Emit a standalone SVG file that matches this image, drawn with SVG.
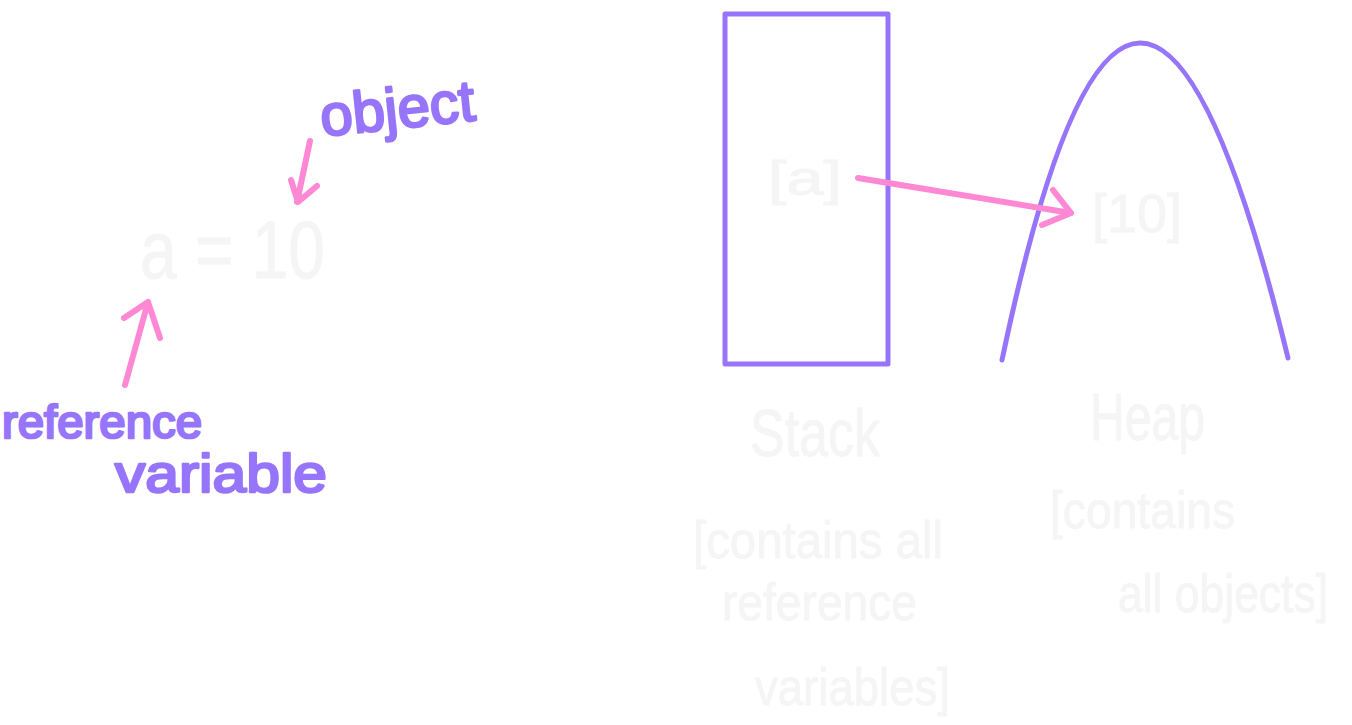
<svg xmlns="http://www.w3.org/2000/svg" width="1352" height="725" viewBox="0 0 1352 725">
<style>
.ink{fill:none;stroke:#9775fa;stroke-width:5;stroke-linecap:round;stroke-linejoin:round}
.arr{fill:none;stroke:#ff88d4;stroke-width:6;stroke-linecap:round;stroke-linejoin:round}
.lbl{font-family:"Liberation Sans",Arial,sans-serif;fill:#9775fa;stroke:#9775fa;stroke-width:2.5;stroke-linejoin:round}
.faint{font-family:"Liberation Sans",Arial,sans-serif;fill:#f5f5f5;stroke:#f5f5f5;stroke-width:1}
</style>
<rect width="1352" height="725" fill="#ffffff"/>
<g id="object-label"><text class="lbl" x="320" y="128" font-size="58" textLength="155" lengthAdjust="spacingAndGlyphs" transform="rotate(-6 400 110)">object</text></g>
<g id="assignment"><text class="faint" x="140" y="278" font-size="82" textLength="185" lengthAdjust="spacingAndGlyphs">a = 10</text></g>
<g id="refvar-label">
<text class="lbl" x="2" y="438" font-size="46" textLength="200" lengthAdjust="spacingAndGlyphs">reference</text>
<text class="lbl" x="115" y="492" font-size="54" textLength="212" lengthAdjust="spacingAndGlyphs">variable</text>
</g>
<g id="stack">
<rect class="ink" x="725" y="14" width="163" height="350"/>
<text class="faint" x="768" y="195" font-size="48" textLength="74" lengthAdjust="spacingAndGlyphs">[a]</text>
<text class="faint" x="750" y="456" font-size="66" textLength="130" lengthAdjust="spacingAndGlyphs">Stack</text>
<text class="faint" x="693" y="558" font-size="52" textLength="250" lengthAdjust="spacingAndGlyphs">[contains all</text>
<text class="faint" x="722" y="620" font-size="52" textLength="195" lengthAdjust="spacingAndGlyphs">reference</text>
<text class="faint" x="755" y="705" font-size="52" textLength="195" lengthAdjust="spacingAndGlyphs">variables]</text>
</g>
<g id="heap">
<path class="ink" d="M1002 360 Q1135 -273 1288 358"/>
<text class="faint" x="1092" y="232" font-size="54" textLength="90" lengthAdjust="spacingAndGlyphs">[10]</text>
<text class="faint" x="1090" y="440" font-size="66" textLength="115" lengthAdjust="spacingAndGlyphs">Heap</text>
<text class="faint" x="1050" y="528" font-size="52" textLength="185" lengthAdjust="spacingAndGlyphs">[contains</text>
<text class="faint" x="1118" y="612" font-size="54" textLength="210" lengthAdjust="spacingAndGlyphs">all objects]</text>
</g>
<g id="connectors">
<path class="arr" d="M310 141 L297 202 M291 180 L298 202 L317 186"/>
<path class="arr" d="M125 385 L148 302 M124 318 L148 302 L160 338"/>
<path class="arr" d="M858 178 L1071 213 M1053 190 L1071 213 L1042 225"/>
</g>
</svg>
